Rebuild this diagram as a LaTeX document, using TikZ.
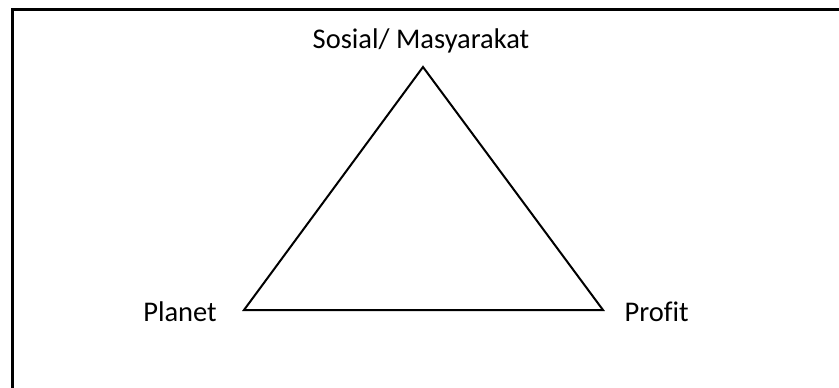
\documentclass[tikz,border=0pt]{standalone}
\usepackage{fontspec}
\setmainfont{Carlito}[Ligatures={NoCommon}]
\begin{document}
\begin{tikzpicture}[x=1pt,y=-1pt,
  lbl/.style={inner sep=0pt,anchor=base,font=\fontsize{28.5}{34}\selectfont},
  frameline/.style={line width=2.2pt},
  tri/.style={line width=2pt,line join=miter}]
\useasboundingbox (0,0) rectangle (839,388);
\coordinate (fa) at (12.5,400);
\coordinate (fb) at (12.5,9.5);
\coordinate (fc) at (850,9.5);
\draw[frameline] (fa) -- (fb) -- (fc);
\coordinate (top) at (423,67);
\coordinate (left) at (244,310);
\coordinate (right) at (603,310);
\draw[tri] (top) -- (left) -- (right) -- cycle;
\node[lbl] (sosial) at (421,48.3) {Sosial/ Masyarakat};
\node[lbl] (planet) at (180,321.5) {Planet};
\node[lbl] (profit) at (656.7,321.5) {Profit};
\end{tikzpicture}
\end{document}
